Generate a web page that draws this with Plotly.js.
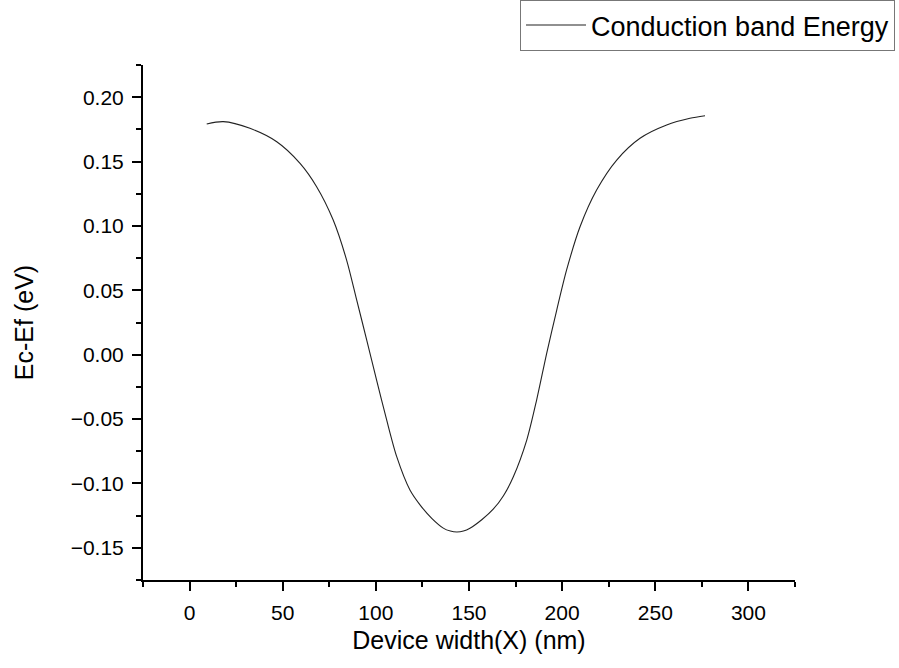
<!DOCTYPE html>
<html>
<head>
<meta charset="utf-8">
<script src="https://cdn.plot.ly/plotly-3.0.1.min.js"></script>
<style>html,body{margin:0;padding:0;background:#fff;}#chart{width:899px;height:668px;}</style>
</head>
<body>
<div id="chart"></div>
<script>
var seriesName = "Conduction band Energy";
var xValues = [9.2, 18.1, 32.4, 46.8, 59.3, 68.2, 77.1, 84.3, 89.7, 95.1, 100.4, 105.8, 111.2, 118.3, 124.0, 130.0, 136.2, 140.0, 143.5, 147.0, 150.5, 157.0, 163.0, 168.5, 173.8, 181.0, 186.3, 191.7, 197.1, 202.4, 209.6, 218.5, 229.3, 241.8, 256.1, 268.6, 276.7];
var yValues = [0.1792, 0.1810, 0.1758, 0.1654, 0.1486, 0.1305, 0.1046, 0.0735, 0.0425, 0.0114, -0.0197, -0.0507, -0.0792, -0.1051, -0.1172, -0.1271, -0.1347, -0.1370, -0.1377, -0.1370, -0.1348, -0.1280, -0.1200, -0.1095, -0.0948, -0.0663, -0.0352, 0.0011, 0.0347, 0.0658, 0.0994, 0.1279, 0.1512, 0.1681, 0.1784, 0.1836, 0.1856];
var xTitle = "Device width(X) (nm)";
var yTitle = "Ec-Ef (eV)";

var font = "Arial, 'Liberation Sans', sans-serif";
var trace = {
  x: xValues, y: yValues, type: 'scatter', mode: 'lines',
  name: seriesName,
  line: {color: '#222222', width: 1.1, shape: 'spline', smoothing: 0.8}
};
var axisCommon = {
  showline: true, linecolor: '#000', linewidth: 2, mirror: false,
  showgrid: false, zeroline: false,
  ticks: 'outside', ticklen: 9, tickwidth: 2, tickcolor: '#000',
  tickfont: {family: font, size: 21, color: '#000'},
  ticklabelstandoff: 4
};
var layout = {
  width: 899, height: 668,
  margin: {l: 143, r: 104, t: 65, b: 88, autoexpand: false},
  paper_bgcolor: '#fff', plot_bgcolor: '#fff',
  font: {family: font, color: '#000'},
  showlegend: true,
  legend: {
    x: 1.1534, y: 1.1262, xanchor: 'right', yanchor: 'top',
    bordercolor: '#777', borderwidth: 1, bgcolor: '#fff',
    font: {family: font, size: 27, color: '#000'},
    itemwidth: 60
  },
  xaxis: Object.assign({}, axisCommon, {
    range: [-25, 325], tick0: 0, dtick: 50,
    minor: {dtick: 25, tick0: 0, ticks: 'outside', ticklen: 5, tickwidth: 2, tickcolor: '#000'},
    title: {text: xTitle, font: {family: font, size: 25, color: '#000'}, standoff: 8}
  }),
  yaxis: Object.assign({}, axisCommon, {
    range: [-0.175, 0.225], tick0: 0, dtick: 0.05, tickformat: '.2f',
    minor: {dtick: 0.025, tick0: 0, ticks: 'outside', ticklen: 5, tickwidth: 2, tickcolor: '#000'},
    title: {text: yTitle, font: {family: font, size: 25, color: '#000'}, standoff: 30}
  })
};
Plotly.newPlot('chart', [trace], layout, {displayModeBar: false, staticPlot: true});
</script>
</body>
</html>
